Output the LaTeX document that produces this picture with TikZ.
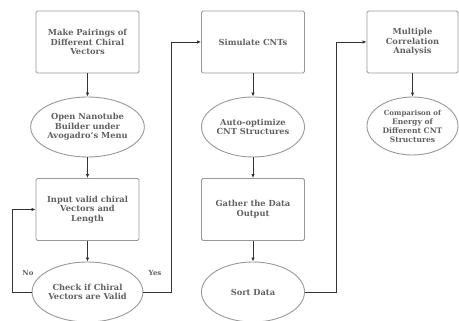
\documentclass[tikz,border=0pt]{standalone}
\usepackage{fontspec}
\setmainfont{DejaVu Serif}
\usetikzlibrary{shapes.geometric,arrows.meta}
\begin{document}
\begin{tikzpicture}[x=1pt,y=1pt,
  txt/.style={font=\fontsize{8.3}{9.6}\selectfont\bfseries, text=black!62, align=center},
  boxn/.style={txt, draw=black!40, line width=0.9pt, rounded corners=1.5pt, minimum width=103pt, minimum height=62pt, inner sep=1pt},
  elln/.style={txt, draw=black!40, line width=0.9pt, ellipse, minimum width=103pt, minimum height=60pt, inner sep=0pt},
  arr/.style={draw=black!80, line width=0.8pt, -{Latex[length=4pt,width=3.5pt]}},
  lbl/.style={font=\fontsize{7}{8}\selectfont\bfseries, text=black!62}]
\useasboundingbox (0,0) rectangle (459,321);
\fill[white] (0,0) rectangle (459,321);
% column 1
\node[boxn] (b1) at (87.5,279) {Make Pairings of\\Different Chiral\\Vectors};
\node[elln] (e1) at (87.5,194) {Open Nanotube\\Builder under\\Avogadro's Menu};
\node[boxn] (b2) at (87.5,111.5) {Input valid chiral\\Vectors and\\Length};
\node[elln] (e2) at (87.5,29) {Check if Chiral\\Vectors are Valid};
% column 2
\node[boxn] (b3) at (253,279) {Simulate CNTs};
\node[elln] (e3) at (253,194) {Auto-optimize\\CNT Structures};
\node[boxn] (b4) at (253,111.5) {Gather the Data\\Output};
\node[elln] (e4) at (253,29) {Sort Data};
% column 3
\node[boxn, minimum width=91pt] (b5) at (412.5,279) {Multiple\\Correlation\\Analysis};
\node[elln, minimum width=91pt, minimum height=58pt, font=\fontsize{7.6}{9}\selectfont\bfseries] (e5) at (412.5,195) {{\fontsize{7}{8}\selectfont Comparison of}\\Energy of\\Different CNT\\Structures};
% labels
\node[lbl] (no) at (28,48) {No};
\node[lbl] (yes) at (155,48) {Yes};
% coordinates
\coordinate (c1) at (12,29);
\coordinate (c2) at (12,111.5);
\coordinate (c3) at (171,29);
\coordinate (c4) at (171,279);
\coordinate (c5) at (336,29);
\coordinate (c6) at (336,279);
% arrows
\draw[arr] (b1) -- (e1);
\draw[arr] (e1) -- (b2);
\draw[arr] (b2) -- (e2);
\draw[arr] (e2.west) -- (c1) -- (c2) -- (b2.west);
\draw[arr] (e2.east) -- (c3) -- (c4) -- (b3.west);
\draw[arr] (b3) -- (e3);
\draw[arr] (e3) -- (b4);
\draw[arr] (b4) -- (e4);
\draw[arr] (e4.east) -- (c5) -- (c6) -- (b5.west);
\draw[arr] (b5) -- (e5);
\end{tikzpicture}
\end{document}
